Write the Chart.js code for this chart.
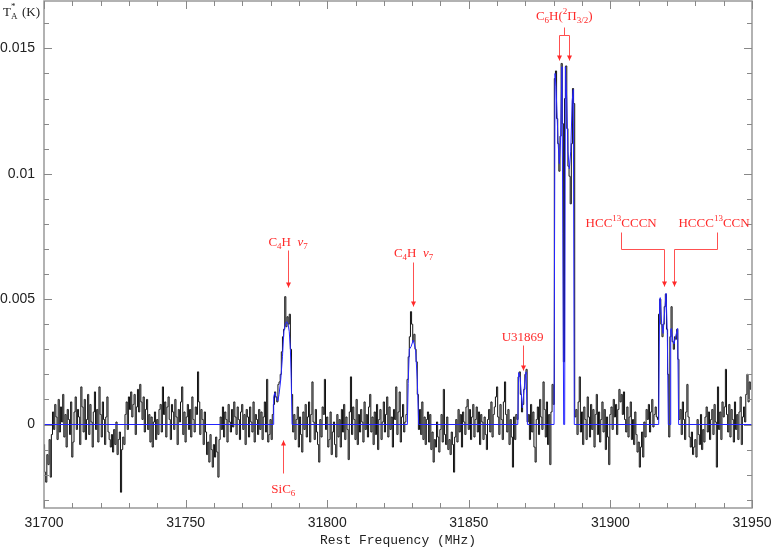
<!DOCTYPE html>
<html>
<head>
<meta charset="utf-8">
<script src="https://cdn.jsdelivr.net/npm/chart.js@4.4.1/dist/chart.umd.min.js"></script>
<style>
  html, body { margin: 0; padding: 0; background: #fff; }
  canvas { display: block; }
</style>
</head>
<body>
<canvas id="spectrumChart" width="772" height="547"></canvas>
<script>
// channel grid of the spectrum (MHz)
const freqStart = 31700;
const chanWidth = 0.4;

// antenna temperature per channel, in units of 0.1 mK
const specT = [
  -8, -19, -23, -12, -16, -6, -21, -4, 5, -2,
  8, 3, -6, 10, -3, 7, 1, 12, -5, 4,
  -9, 6, 2, -4, 9, -13, -7, 5, 11, -2,
  6, 3, -8, 15, 7, -3, 10, -6, 2, 12,
  -4, 8, 1, -9, 5, 13, -2, 6, -7, 15,
  4, -5, 9, 2, -8, 3, 11, -3, -6, -9,
  -4, -11, -2, -8, 1, -12, -6, -3, -27, -10,
  -5, -8, 4, 9, -2, 11, 6, 13, 3, 8,
  12, -4, 7, 14, 5, 16, 9, 2, 11, -3,
  6, 10, -2, 4, -7, 3, -9, 1, 5, -6,
  2, -4, 6, 8, -3, 15, 4, 9, -5, 7,
  11, 2, -6, 8, 5, -2, 10, 3, -8, 6,
  1, 9, 15, -4, 5, -7, 3, 8, -2, 6,
  -5, 11, 2, -3, 7, 4, 21, 9, -4, 6,
  2, -8, 5, -3, -12, -7, -15, -4, -10, -17,
  -8, -13, -5, -11, -21, -6, 3, -2, 7, -5,
  5, 2, -7, 8, 1, -3, 6, -1, 9, 3,
  -4, 7, 2, -6, 5, 8, -2, 4, -8, 6,
  3, -5, 7, 1, -3, 9, -7, 4, 2, -4,
  6, -2, 5, -6, 3, 9, -3, 18, -7, -4,
  2, -6, 4, 8, 13, 11, 9, 16, 17, 20,
  29, 35, 38, 51, 39, 43, 40, 44, 30, 12,
  -3, 4, -6, 2, 7, -9, 3, -4, -11, 5,
  -2, 8, -5, 3, 9, -7, 4, 17, 1, -6,
  6, -3, -8, -15, 2, -5, 7, 4, 18, -2,
  3, -9, -6, 5, -12, -3, 1, -8, -13, 4,
  -5, 2, -9, 6, -3, 8, -6, 3, -2, -14,
  5, 19, -4, 7, 2, -6, 10, -8, 4, -3,
  6, 1, -7, 9, -2, 4, -5, 7, 12, -3,
  3, -8, 5, -4, 8, -10, 2, 6, -6, 1,
  9, -3, 4, 11, -5, 7, -2, 3, -9, 6,
  2, 15, -4, 5, 13, -7, 3, 8, -3, 1,
  4, 18, 27, 35, 45, 40, 33, 36, 30, 25,
  12, -2, 6, -4, 9, -6, 3, -8, 2, 5,
  -7, 4, -10, -3, -15, -6, -9, 1, -5, -11,
  -2, 4, -7, 14, -4, -8, 3, -10, -6, -12,
  -3, -8, -19, -5, 2, -7, 6, -3, 4, -9,
  5, 1, -4, 7, 10, -2, 6, -6, 3, 8,
  -5, 2, 7, -3, 5, -8, 4, 1, -6, 3,
  -4, -10, 2, 6, -3, 9, -5, 4, 7, 11,
  15, 3, -4, 8, 2, -6, 9, 17, 4, -3,
  6, -8, 2, -5, -17, 3, -6, 4, 2, 19,
  21, 12, 5, 8, 14, 20, 22, 1, 4, -6,
  8, -3, 5, -9, -15, 2, 7, -4, 10, 3,
  -2, 17, 6, -5, 9, -8, 4, -16, 5, 16,
  8, 138, 141, 122, 112, 101, 115, 144, 120, 25,
  130, 143, 118, 103, 99, 88, 112, 134, 128, 3,
  6, -4, 9, 19, -3, 5, -8, 7, 2, -6,
  11, 3, -5, 8, -2, 6, -9, 4, 12, -4,
  5, -7, 2, 9, -3, 6, -10, 3, -5, -16,
  4, 7, -2, 10, 3, 8, -4, 6, 14, 9,
  12, 4, 13, 2, -3, 7, -5, 3, 9, -6,
  2, -8, 5, -4, -11, -7, -17, -9, -3, -13,
  1, -5, 6, 2, 8, -3, 5, 10, -1, 4,
  7, 3, 2, 44, 50, 40, 35, 40, 47, 52,
  38, 20, -5, 35, 47, 33, 30, 35, 34, 38,
  26, 2, 6, -4, 9, 2, -6, 5, 16, 3,
  -5, -9, -3, -12, -9, -6, -13, 2, -4, -8,
  4, -10, -2, -7, 3, 7, -3, 5, -6, 2,
  6, -4, 8, 1, -17, 15, -2, 5, -6, 9,
  3, 7, 22, 4, -3, 8, -5, 6, 2, -7,
  9, -2, 4, -6, 5, 11, -8, 3, 7, 1,
  12, 20, 9, 17, 14
];

// fitted line profiles (blue), frequency in MHz and T in K
const fitFreq = [
  31700,
  31781.0, 31781.1, 31781.5, 31782.0, 31782.6, 31783.0, 31783.6, 31784.2, 31784.7, 31785.2, 31785.7, 31786.2, 31786.6, 31787.0, 31787.3, 31787.6,
  31828.3, 31828.6, 31829.0, 31829.6, 31830.4, 31831.2, 31831.8, 31832.3,
  31867.3, 31867.6, 31868.1, 31868.9, 31869.5, 31870.2, 31870.7,
  31880.1, 31880.45, 31880.8, 31881.5, 31881.95, 31882.4, 31882.9, 31883.2, 31883.5, 31883.85, 31884.1, 31884.6, 31885.0, 31885.5, 31886.0, 31886.5, 31886.9, 31887.25,
  31917.05, 31917.4, 31917.6, 31918.1, 31918.6, 31919.2, 31919.65, 31920.1, 31920.45, 31921.05, 31921.3, 31921.5, 31922.0, 31922.45, 31923.0, 31923.75, 31924.1,
  31950
];
const fitT = [
  0,
  0, 0.0011, 0.00127, 0.00105, 0.00095, 0.0012, 0.0018, 0.0027, 0.0037, 0.0040, 0.0041, 0.0040, 0.0037, 0.0030, 0.0018, 0,
  0, 0.00164, 0.0030, 0.0031, 0.00337, 0.0030, 0.0018, 0,
  0, 0.00207, 0.0019, 0.00067, 0.00137, 0.0021, 0,
  0, 0.0140, 0.01347, 0.01134, 0.0104, 0.01134, 0.01427, 0.0076, 0, 0, 0.01427, 0.0129, 0.0109, 0.0102, 0.0109, 0.0129, 0.01336, 0,
  0, 0.00496, 0.00506, 0.00403, 0.00363, 0.00456, 0.00523, 0.00363, 0, 0, 0.00377, 0.00383, 0.00337, 0.00321, 0.0035, 0.00383, 0,
  0
];

// axes
const xTickValues = [31700, 31750, 31800, 31850, 31900, 31950];
const xTickLabels = ["31700", "31750", "31800", "31850", "31900", "31950"];
const yTickValues = [0, 0.005, 0.01, 0.015];
const yTickLabels = ["0", "0.005", "0.01", "0.015"];

// line identifications: text anchor + marker paths, all in (MHz, K)
const lineMarks = [
  { text: [["C"], ["4", "sub"], ["H"], ["  "], ["\u03bd", "it"], ["7", "sub"]], at: [31786.2, 0.00712],
    paths: [[[31786.2, 0.00696], [31786.2, 0.00548]]], heads: [[31786.2, 0.00548, 1]] },
  { text: [["C"], ["4", "sub"], ["H"], ["  "], ["\u03bd", "it"], ["7", "sub"]], at: [31830.5, 0.00669],
    paths: [[[31830.3, 0.00649], [31830.3, 0.00472]]], heads: [[31830.3, 0.00472, 1]] },
  { text: [["U31869"]], at: [31869.0, 0.00333],
    paths: [[[31869.0, 0.00317], [31869.0, 0.00217]]], heads: [[31869.0, 0.00217, 1]] },
  { text: [["SiC"], ["6", "sub"]], at: [31784.5, -0.00273],
    paths: [[[31784.5, -0.00195], [31784.5, -0.00062]]], heads: [[31784.5, -0.00062, -1]] },
  { text: [["C"], ["6", "sub"], ["H("], ["2", "sup"], ["\u03a0"], ["3/2", "sub"], [")"]], at: [31883.7, 0.01613],
    paths: [[[31883.73, 0.01585], [31883.73, 0.01553]],
            [[31881.96, 0.01453], [31881.96, 0.01553], [31885.49, 0.01553], [31885.49, 0.01453]]],
    heads: [[31881.96, 0.01453, 1], [31885.49, 0.01453, 1]] },
  { text: [["HCC"], ["13", "sup"], ["CCCN"]], at: [31903.8, 0.00786],
    paths: [[[31903.6, 0.00769], [31903.6, 0.0070], [31918.8, 0.0070], [31918.8, 0.00552]]],
    heads: [[31918.8, 0.00552, 1]] },
  { text: [["HCCC"], ["13", "sup"], ["CCN"]], at: [31936.6, 0.00786],
    paths: [[[31937.6, 0.00769], [31937.6, 0.0070], [31922.5, 0.0070], [31922.5, 0.00552]]],
    heads: [[31922.5, 0.00552, 1]] }
];

const red = "#ff2a2a";
const serif = '"Liberation Serif", "DejaVu Serif", serif';

function partFont(p) {
  const small = p[1] === "sub" || p[1] === "sup";
  return (p[1] === "it" ? "italic " : "") + (small ? 9 : 13) + "px " + serif;
}

function drawRich(ctx, parts, cx, baseY) {
  let total = 0;
  parts.forEach(p => { ctx.font = partFont(p); total += ctx.measureText(p[0]).width; });
  let px = cx - total / 2;
  ctx.textAlign = "left";
  ctx.textBaseline = "alphabetic";
  parts.forEach(p => {
    ctx.font = partFont(p);
    const dy = p[1] === "sub" ? 3 : p[1] === "sup" ? -6 : 0;
    ctx.fillText(p[0], px, baseY + dy);
    px += ctx.measureText(p[0]).width;
  });
}

// boxed frame with inward ticks on all four sides
const framePlugin = {
  id: "frame",
  afterDatasetsDraw(chart) {
    const { ctx, chartArea: a, scales: { x, y } } = chart;
    ctx.save();
    ctx.strokeStyle = "#999";
    ctx.lineWidth = 1.5;
    ctx.strokeRect(a.left, a.top, a.right - a.left, a.bottom - a.top);
    ctx.lineWidth = 1;
    ctx.strokeStyle = "#888";
    ctx.beginPath();
    for (let k = Math.ceil(x.min / 10); k * 10 <= x.max; k++) {
      const px = Math.round(x.getPixelForValue(k * 10)) + 0.5;
      const len = k % 5 === 0 ? 8 : 5;
      ctx.moveTo(px, a.bottom); ctx.lineTo(px, a.bottom - len);
      ctx.moveTo(px, a.top); ctx.lineTo(px, a.top + len);
    }
    for (let k = Math.ceil(y.min / 0.001); k * 0.001 <= y.max; k++) {
      const py = Math.round(y.getPixelForValue(k * 0.001)) + 0.5;
      const len = k % 5 === 0 ? 8 : 5;
      ctx.moveTo(a.left, py); ctx.lineTo(a.left + len, py);
      ctx.moveTo(a.right, py); ctx.lineTo(a.right - len, py);
    }
    ctx.stroke();
    ctx.restore();
  }
};

// red line identifications and the y-axis caption
const labelPlugin = {
  id: "labels",
  afterDraw(chart) {
    const { ctx, scales: { x, y } } = chart;
    ctx.save();
    ctx.fillStyle = red;
    ctx.strokeStyle = "#ff5050";
    ctx.lineWidth = 1;
    lineMarks.forEach(m => {
      drawRich(ctx, m.text, x.getPixelForValue(m.at[0]), y.getPixelForValue(m.at[1]));
      m.paths.forEach(path => {
        ctx.beginPath();
        path.forEach((pt, i) => {
          const px = Math.round(x.getPixelForValue(pt[0])) + 0.5;
          const py = Math.round(y.getPixelForValue(pt[1])) + 0.5;
          if (i === 0) ctx.moveTo(px, py); else ctx.lineTo(px, py);
        });
        ctx.stroke();
      });
      m.heads.forEach(h => {
        const px = Math.round(x.getPixelForValue(h[0])) + 0.5;
        const py = Math.round(y.getPixelForValue(h[1])) + 0.5;
        ctx.beginPath();
        ctx.moveTo(px, py);
        ctx.lineTo(px - 2.5, py - 5 * h[2]);
        ctx.lineTo(px + 2.5, py - 5 * h[2]);
        ctx.closePath();
        ctx.fill();
      });
    });

    // T*_A (K)
    ctx.fillStyle = "#222";
    ctx.textAlign = "left";
    ctx.textBaseline = "alphabetic";
    ctx.font = "13px " + serif;
    ctx.fillText("T", 3, 16);
    ctx.fillText("(K)", 22, 16);
    ctx.font = "9px " + serif;
    ctx.fillText("*", 11, 9);
    ctx.fillText("A", 11, 19);
    ctx.restore();
  }
};

const spectrumChart = document.querySelector("#spectrumChart");

new Chart(spectrumChart, {
  type: "line",
  data: {
    datasets: [
      {
        data: fitFreq.map((f, i) => ({ x: f, y: fitT[i] })),
        borderColor: "#2424ff",
        borderWidth: 1,
        pointRadius: 0,
        tension: 0,
        order: 0,
      },
      {
        data: specT.map((t, i) => ({ x: freqStart + chanWidth * i, y: t / 10000 })),
        borderColor: "#111",
        borderWidth: 1,
        pointRadius: 0,
        stepped: "middle",
        order: 1,
      },
    ],
  },
  options: {
    responsive: false,
    animation: false,
    layout: { padding: { top: 1, right: 20, left: 0, bottom: 0 } },
    scales: {
      x: {
        type: "linear",
        min: 31700,
        max: 31950,
        grid: { display: false, drawTicks: false },
        border: { display: false },
        afterBuildTicks: (scale) => {
          scale.ticks = xTickValues.map(v => ({ value: v }));
        },
        afterFit: (scale) => {
          scale.height = 39;
          scale.paddingLeft = 0;
          scale.paddingRight = 0;
        },
        ticks: {
          autoSkip: false,
          maxRotation: 0,
          padding: 7,
          color: "#222",
          font: { size: 14, family: '"Liberation Sans", Arial, sans-serif' },
          callback: (value) => xTickLabels[xTickValues.indexOf(value)],
        },
        title: {
          display: true,
          text: "Rest Frequency (MHz)",
          color: "#222",
          padding: { top: 0, bottom: 0 },
          font: { size: 13, family: '"Liberation Mono", monospace', lineHeight: 1 },
        },
      },
      y: {
        min: -0.00333,
        max: 0.01689,
        grid: { display: false, drawTicks: false },
        border: { display: false },
        afterBuildTicks: (scale) => {
          scale.ticks = yTickValues.map(v => ({ value: v }));
        },
        afterFit: (scale) => {
          scale.width = 44;
          scale.paddingTop = 0;
          scale.paddingBottom = 0;
        },
        ticks: {
          autoSkip: false,
          padding: 9,
          color: "#222",
          font: { size: 14, family: '"Liberation Sans", Arial, sans-serif' },
          callback: (value) => yTickLabels[yTickValues.indexOf(value)],
        },
      },
    },
    plugins: {
      legend: { display: false },
      tooltip: { enabled: false },
    },
  },
  plugins: [framePlugin, labelPlugin],
});
</script>
</body>
</html>
